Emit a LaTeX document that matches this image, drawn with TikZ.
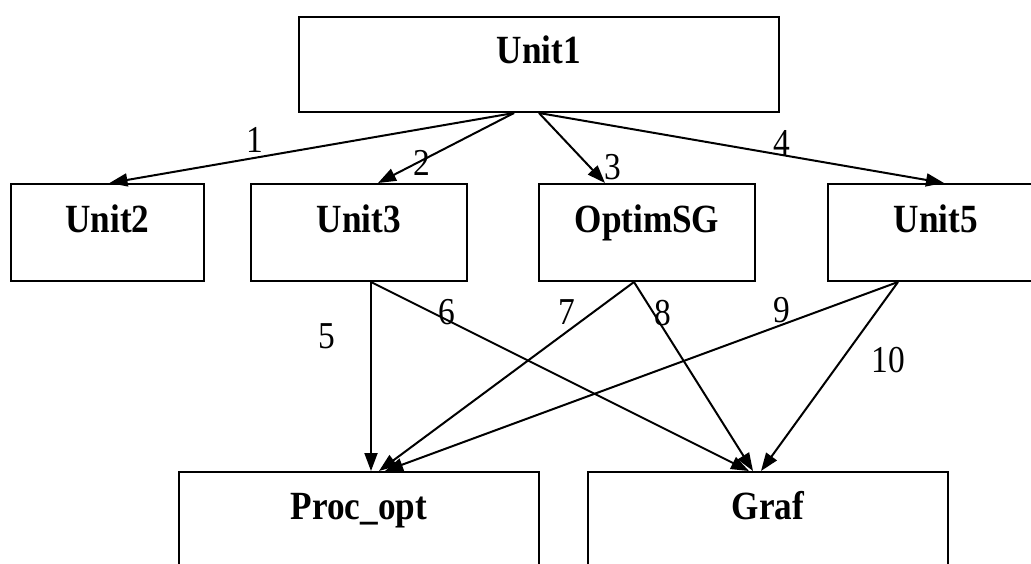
\documentclass[tikz,border=0pt]{standalone}
\usepackage{fontspec}
\setmainfont{Liberation Serif}[FakeStretch=0.88]
\usetikzlibrary{arrows.meta}

\tikzset{
  unit/.style={draw, line width=2pt, inner sep=0pt, anchor=north west,
    font=\fontsize{40}{44}\selectfont\bfseries},
  toprow/.style={unit, text height=46pt, text depth=49pt},
  midrow/.style={unit, text height=48pt, text depth=49pt},
  lowrow/.style={unit, text height=47pt, text depth=110pt},
  num/.style={font=\fontsize{38}{42}\selectfont},
  link/.style={line width=2pt, -{Triangle[length=18pt,width=13pt]}}
}

\begin{document}
\begin{tikzpicture}[x=1pt, y=-1pt]
\useasboundingbox (0,0) rectangle (1031,563);
\clip (0,0) rectangle (1031,563);

% modules
\node[toprow, minimum width=480pt] (unit1) at (298,16) {Unit1};
\node[midrow, minimum width=193pt] (unit2) at (10,183) {Unit2};
\node[midrow, minimum width=216pt] (unit3) at (250,183) {Unit3};
\node[midrow, minimum width=216pt] (optim) at (538,183) {OptimSG};
\node[midrow, minimum width=216pt] (unit5) at (827,183) {Unit5};
\node[lowrow, minimum width=360pt] (proc) at (178,471) {Proc\_opt};
\node[lowrow, minimum width=360pt] (graf) at (587,471) {Graf};

% calls
\draw[link] ([xshift=-25pt]unit1.south) -- ([xshift=2pt]unit2.north);
\draw[link] ([xshift=-25pt]unit1.south) -- ([xshift=19pt]unit3.north);
\draw[link] (unit1.south) -- ([xshift=-42pt]optim.north);
\draw[link] (unit1.south) -- ([xshift=8pt]unit5.north);
\draw[link] ([xshift=12pt]unit3.south) -- ([xshift=12pt]proc.north);
\draw[link] ([xshift=12pt]unit3.south) -- ([xshift=-19pt]graf.north);
\draw[link] ([xshift=-13pt]optim.south) -- ([xshift=20pt]proc.north);
\draw[link] ([xshift=-13pt]optim.south) -- ([xshift=-15pt]graf.north);
\draw[link] ([xshift=-38pt]unit5.south) -- ([xshift=26pt]proc.north);
\draw[link] ([xshift=-38pt]unit5.south) -- ([xshift=-7pt]graf.north);

% call numbers
\foreach \n/\x/\y in {1/255/140, 2/422/163, 3/613/167, 4/782/143, 5/327/336,
    6/447/312, 7/567/312, 8/663/313, 9/782/310, 10/888/360}
  \node[num] (n\n) at (\x,\y) {\n};
\end{tikzpicture}
\end{document}
